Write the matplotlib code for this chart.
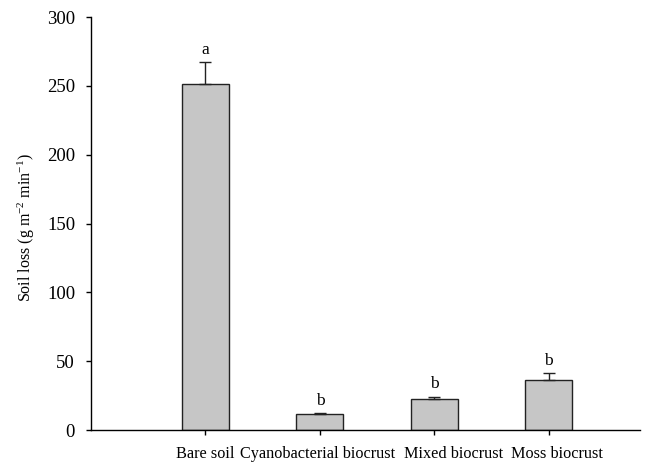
import matplotlib
matplotlib.use('Agg')
import matplotlib.pyplot as plt
from matplotlib.transforms import ScaledTranslation
import numpy as np

plt.rcParams['font.family'] = ['Liberation Serif', 'DejaVu Serif']
plt.rcParams['mathtext.fontset'] = 'custom'
plt.rcParams['mathtext.rm'] = 'Liberation Serif'
plt.rcParams['mathtext.it'] = 'Liberation Serif:italic'

# data
categories = ['Bare soil', 'Cyanobacterial biocrust', 'Mixed biocrust', 'Moss biocrust']
soil_loss = [251.6, 11.4, 22.7, 36.3]
errors = [16.0, 0.8, 1.7, 5.1]
letters = ['a', 'b', 'b', 'b']

x = np.arange(len(categories))

fig = plt.figure(figsize=(6.6, 4.62), dpi=100)
ax = fig.add_axes([0.138, 0.069, 0.832, 0.894])

ax.bar(x, soil_loss, width=0.41, color='#c6c6c6', edgecolor='#222222', linewidth=1.0, zorder=2)
ax.errorbar(x, soil_loss, yerr=[np.zeros(len(errors)), errors], fmt='none',
            ecolor='#222222', elinewidth=1.0, capsize=4.5, capthick=1.0, zorder=3)

for xi, v, e, t in zip(x, soil_loss, errors, letters):
    ax.annotate(t, (xi, v + e), xytext=(0, 3), textcoords='offset points',
                ha='center', va='bottom', fontsize=12.5)

ax.set_xlim(-1, 3.8)
ax.set_ylim(0, 300)
ax.set_yticks([0, 50, 100, 150, 200, 250, 300])
ax.set_xticks(x)
ax.set_xticklabels(categories, fontsize=11.7)
ax.tick_params(axis='y', labelsize=13.5, length=3.5, pad=8, width=1.0)
ax.tick_params(axis='x', length=3.5, pad=8, width=1.0)

# the labels are nudged sideways so they do not run into each other
shifts = [0, -2, 19, 8]
for lab, dx in zip(ax.get_xticklabels(), shifts):
    lab.set_transform(lab.get_transform() + ScaledTranslation(dx / 100, 0, fig.dpi_scale_trans))

ax.set_ylabel('Soil loss (g m$^{-2}$ min$^{-1}$)', fontsize=11.5)
ax.yaxis.set_label_coords(-0.098, 0.49)

ax.spines['top'].set_visible(False)
ax.spines['right'].set_visible(False)
ax.spines['left'].set_linewidth(1.0)
ax.spines['bottom'].set_linewidth(1.0)

fig.savefig('out.png', dpi=100)
